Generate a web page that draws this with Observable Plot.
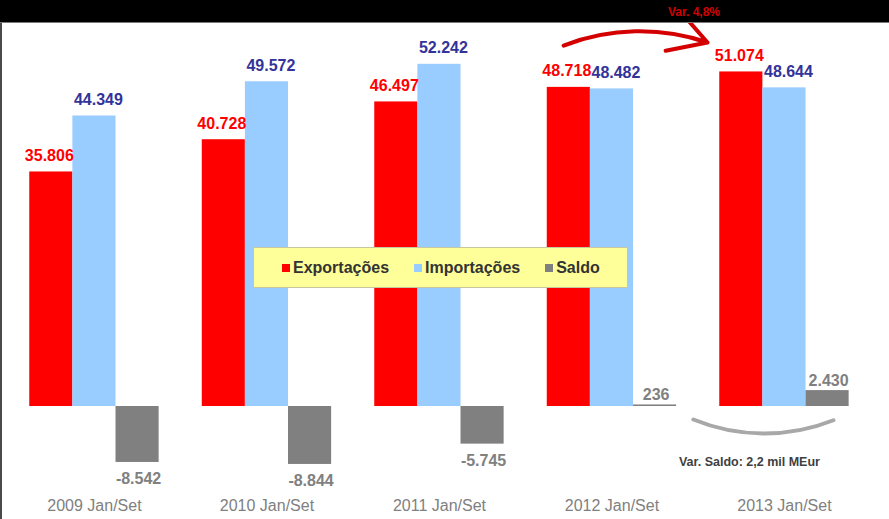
<!DOCTYPE html>
<html>
<head>
<meta charset="utf-8">
<script src="https://cdn.jsdelivr.net/npm/d3@7"></script>
<script src="https://cdn.jsdelivr.net/npm/@observablehq/plot@0.6"></script>
<style>
  html, body { margin: 0; padding: 0; background: #fff; }
  body { width: 889px; height: 519px; overflow: hidden; font-family: "Liberation Sans", Arial, sans-serif; }
  #band { position: relative; height: 22px; background: #000; border-bottom: 1px solid #7a7a7a; }
  #band span { position: absolute; left: 694px; top: 5px; transform: translateX(-50%); color: #d40000; font-weight: bold; font-size: 12px; line-height: 14px; white-space: nowrap; }
  #wrap { position: relative; border-left: 2px solid #4a4a4a; height: 496px; }
  #legend { position: absolute; left: 251px; top: 224px; width: 375px; height: 41px; background: #FFFF99; border: 1px solid #c8c8a0; display: flex; align-items: center; box-sizing: border-box; padding-left: 28px; font-weight: bold; font-size: 16px; color: #333; }
  #legend .it { display: flex; align-items: center; margin-right: 25px; white-space: nowrap; }
  #legend .sw { width: 8px; height: 8px; margin-right: 3px; }
</style>
</head>
<body>
<div id="band"><span id="var"></span></div>
<div id="wrap"><div id="chart"></div><div id="legend"></div></div>
<script>
const periods = ["2009 Jan/Set", "2010 Jan/Set", "2011 Jan/Set", "2012 Jan/Set", "2013 Jan/Set"];
const seriesNames = ["Exportações", "Importações", "Saldo"];
const exportacoes = [35806, 40728, 46497, 48718, 51074];
const importacoes = [44349, 49572, 52242, 48482, 48644];
const saldo = [-8542, -8844, -5745, 236, 2430];
const seriesColors = ["#FF0000", "#99CCFF", "#808080"];
const labelColors = ["#FF0000", "#333399", "#808080"];
const varExport = "Var. 4,8%";
const varSaldo = "Var. Saldo: 2,2 mil MEur";

const fmt = d3.formatLocale({decimal: ",", thousands: ".", grouping: [3], currency: ["", ""], minus: "-"}).format(",d");

const values = [exportacoes, importacoes, saldo];
const rows = [];
periods.forEach((p, i) => {
  seriesNames.forEach((s, k) => {
    rows.push({period: p, i, k, series: s, value: values[k][i]});
  });
});
const bw = 0.25;
const left = d => d.i + (d.k - 1.5) * bw;
const right = d => d.i + (d.k - 0.5) * bw;
const mid = d => d.i + (d.k - 1) * bw;

document.getElementById("var").textContent = varExport;

const chart = Plot.plot({
  width: 887,
  height: 496,
  marginTop: 0,
  marginLeft: 0,
  marginRight: 0,
  marginBottom: 30,
  style: {fontFamily: "Liberation Sans, Arial, sans-serif", background: "#fff"},
  x: {type: "linear", domain: [-0.533, 4.609]},
  y: {domain: [-12670, 58470], axis: null},
  color: {domain: seriesNames, range: seriesColors},
  marks: [
    Plot.rect(rows, {x1: left, x2: right, y1: 0, y2: "value", fill: "series"}),
    Plot.text(rows.filter(d => d.k === 0), {x: mid, y: "value", text: d => fmt(d.value), dy: -11, dx: -2, lineAnchor: "bottom", fill: labelColors[0], fontWeight: "bold", fontSize: 16}),
    Plot.text(rows.filter(d => d.k === 1), {x: mid, y: "value", text: d => fmt(d.value), dy: -11, dx: 4, lineAnchor: "bottom", fill: labelColors[1], fontWeight: "bold", fontSize: 16}),
    Plot.text(rows.filter(d => d.k === 2 && d.value >= 0), {x: mid, y: "value", text: d => fmt(d.value), dy: -5, dx: 1, lineAnchor: "bottom", fill: labelColors[2], fontWeight: "bold", fontSize: 16}),
    Plot.text(rows.filter(d => d.k === 2 && d.value < 0), {x: mid, y: "value", text: d => fmt(d.value), dy: 22, dx: 1, lineAnchor: "bottom", fill: labelColors[2], fontWeight: "bold", fontSize: 16}),
    // red arrow: exports 2012 -> 2013
    Plot.arrow([{x1: 3 - 0.28, y1: 55100, x2: 4 - 0.446, y2: 55570}], {x1: "x1", y1: "y1", x2: "x2", y2: "y2", bend: 20, stroke: "#d40000", strokeWidth: 4, headLength: 16}),
    // grey arc: saldo 2012 -> 2013
    Plot.arrow([{x1: 3.472, y1: -1985, x2: 4.284, y2: -2100}], {x1: "x1", y1: "y1", x2: "x2", y2: "y2", bend: -22, stroke: "#a8a8a8", strokeWidth: 4, headLength: 0}),
    Plot.text([varSaldo], {x: 3.797, y: -9008, text: d => d, lineAnchor: "bottom", fill: "#404040", fontWeight: "bold", fontSize: 12.5}),
    Plot.axisX({ticks: [0, 1, 2, 3, 4], tickFormat: i => periods[i], tickSize: 0, tickPadding: 10, fontSize: 16, fill: "#808080", label: null})
  ]
});
document.getElementById("chart").appendChild(chart);

const lg = document.getElementById("legend");
seriesNames.forEach((s, k) => {
  const it = document.createElement("div");
  it.className = "it";
  const sw = document.createElement("div");
  sw.className = "sw";
  sw.style.background = seriesColors[k];
  const tx = document.createElement("span");
  tx.textContent = s;
  it.appendChild(sw); it.appendChild(tx);
  lg.appendChild(it);
});
</script>
</body>
</html>
